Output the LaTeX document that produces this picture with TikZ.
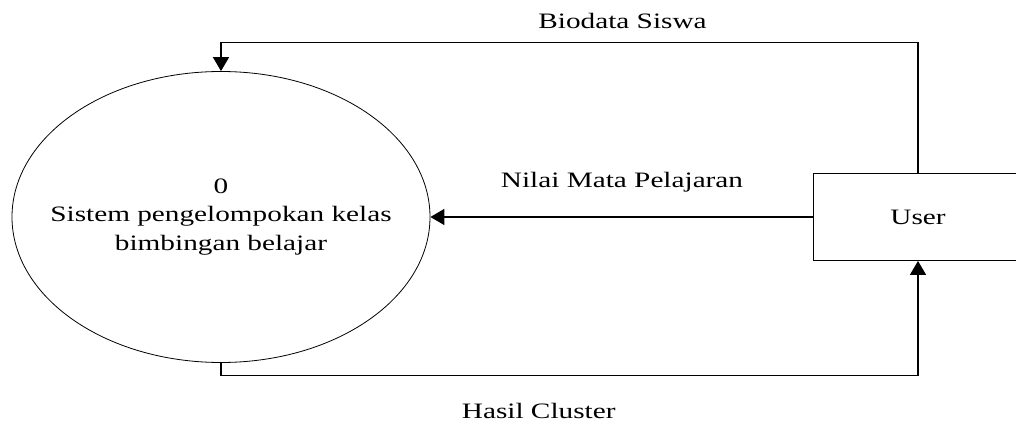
\documentclass[tikz,border=0pt]{standalone}
\usepackage{fontspec}
\usepackage{graphicx}
\setmainfont{Liberation Serif}
\usetikzlibrary{shapes.geometric,arrows.meta}
\newcommand\sx[1]{\scalebox{1.33}[1]{#1}}
\begin{document}
\begin{tikzpicture}[x=1pt,y=1pt,
  every node/.style={font=\fontsize{22}{28.5}\selectfont},
  procnode/.style={ellipse,draw,line width=0.8pt,minimum width=418pt,minimum height=291pt,inner sep=0pt},
  entitynode/.style={rectangle,draw,line width=0.9pt,minimum width=210pt,minimum height=87pt,inner sep=0pt},
  flow/.style={line width=1.6pt,-{Triangle[width=16pt,length=14pt]}},
  lbl/.style={anchor=base,inner sep=0pt}]
\clip (0,0) rectangle (1016,423);
\useasboundingbox (0,0) rectangle (1016,423);
\node[procnode] (proc) at (221,206) {};
\node[align=center,inner sep=0pt] (proctext) at (proc.center) {\sx{0}\\\sx{Sistem pengelompokan kelas}\\\sx{bimbingan belajar}};
\node[entitynode] (user) at (918,206) {\sx{User}};
\coordinate (topc) at (918,380.3);
\coordinate (botc) at (221,47.5);
\draw[flow] (user.north) -- (topc) -| (proc.north);
\draw[flow] (user.west) -- (proc.east);
\draw[flow] (proc.south) -- (botc) -| (user.south);
\node[lbl] (lb1) at (622.5,394) {\sx{Biodata Siswa}};
\node[lbl] (lb2) at (622,235) {\sx{Nilai Mata Pelajaran}};
\node[lbl] (lb3) at (538.7,5) {\sx{Hasil Cluster}};
\end{tikzpicture}
\end{document}
